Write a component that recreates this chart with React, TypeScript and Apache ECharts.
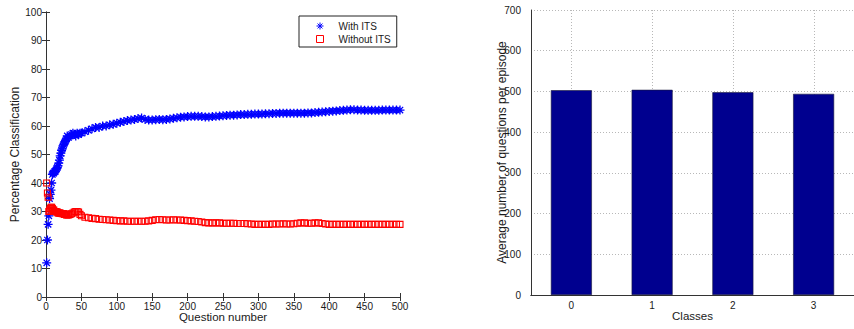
import React, { useEffect, useRef } from "react";
import * as echarts from "echarts";

// [question number, percentage classification]
const withIts: [number, number][] = [
  [1, 12], [2, 20], [3, 25.5], [4, 28.5], [5, 34.5], [6, 36], [7, 37.5], [8, 40], [9, 43], [10, 43.5],
  [11, 43.5], [12, 44], [13, 44], [14, 44.5], [15, 45], [16, 45.5], [17, 46], [18, 47], [19, 48], [20, 49.5],
  [21, 50.5], [22, 51.5], [23, 52], [24, 53], [25, 53.5], [26, 54], [27, 54.5], [28, 55], [29, 55.5], [30, 56.5],
  [32, 56], [34, 56.5], [36, 57], [38, 57.5], [40, 57], [42, 56.5], [44, 57.5], [46, 57], [48, 57.5],
  [50, 57.5], [55, 58], [60, 58.5], [65, 59], [70, 59.5], [75, 59.5], [80, 60], [85, 60], [90, 60.4], [95, 60.6],
  [100, 61], [105, 61.3], [110, 61.6], [115, 61.9], [120, 62.1], [125, 62.3], [130, 62.6], [135, 62.8], [140, 62.3], [145, 62.1],
  [150, 62.1], [155, 62.2], [160, 62.3], [165, 62.2], [170, 62.3], [175, 62.5], [180, 62.7], [185, 62.9], [190, 63.1], [195, 63.2],
  [200, 63.3], [205, 63.4], [210, 63.4], [215, 63.4], [220, 63.3], [225, 63.2], [230, 63.2], [235, 63.3], [240, 63.4], [245, 63.5],
  [250, 63.6], [255, 63.7], [260, 63.8], [265, 63.8], [270, 63.9], [275, 64], [280, 64], [285, 64.1], [290, 64.1], [295, 64.2],
  [300, 64.2], [305, 64.2], [310, 64.3], [315, 64.3], [320, 64.4], [325, 64.4], [330, 64.5], [335, 64.5], [340, 64.5], [345, 64.5],
  [350, 64.5], [355, 64.5], [360, 64.5], [365, 64.5], [370, 64.6], [375, 64.6], [380, 64.7], [385, 64.8], [390, 64.9], [395, 65],
  [400, 65.1], [405, 65.2], [410, 65.3], [415, 65.4], [420, 65.5], [425, 65.6], [430, 65.7], [435, 65.7], [440, 65.6], [445, 65.6],
  [450, 65.5], [455, 65.5], [460, 65.5], [465, 65.5], [470, 65.5], [475, 65.6], [480, 65.6], [485, 65.6], [490, 65.6], [495, 65.6],
  [500, 65.6],
];

const withoutIts: [number, number][] = [
  [1, 40], [2, 36.5], [3, 35], [4, 30], [5, 30.5], [6, 31], [7, 31.5], [8, 31.5], [9, 31], [10, 30.5],
  [11, 30.5], [12, 30], [13, 30], [14, 30], [15, 29.8], [16, 29.8], [17, 29.5], [18, 29.5], [19, 29.5], [20, 29.5],
  [21, 29.3], [22, 29.3], [23, 29.2], [24, 29.3], [25, 29.2], [26, 29], [27, 29], [28, 29], [29, 28.8], [30, 28.8],
  [32, 28.8], [34, 29], [36, 29.2], [38, 29.5], [40, 29.8], [42, 30], [44, 30], [46, 29.8], [48, 29],
  [50, 28.5], [55, 28], [60, 27.8], [65, 27.6], [70, 27.5], [75, 27.3], [80, 27.2], [85, 27.1], [90, 27], [95, 26.9],
  [100, 26.8], [105, 26.7], [110, 26.7], [115, 26.6], [120, 26.6], [125, 26.6], [130, 26.6], [135, 26.6], [140, 26.6], [145, 26.7],
  [150, 26.9], [155, 27.1], [160, 27.2], [165, 27.1], [170, 27], [175, 27], [180, 27.1], [185, 27], [190, 27], [195, 26.9],
  [200, 26.8], [205, 26.7], [210, 26.6], [215, 26.5], [220, 26.3], [225, 26.1], [230, 26], [235, 26], [240, 26], [245, 26],
  [250, 25.9], [255, 25.9], [260, 25.9], [265, 25.9], [270, 25.8], [275, 25.8], [280, 25.8], [285, 25.7], [290, 25.6], [295, 25.5],
  [300, 25.5], [305, 25.5], [310, 25.5], [315, 25.5], [320, 25.6], [325, 25.6], [330, 25.6], [335, 25.7], [340, 25.6], [345, 25.6],
  [350, 25.7], [355, 25.9], [360, 26], [365, 26], [370, 25.9], [375, 25.9], [380, 26], [385, 26], [390, 25.8], [395, 25.6],
  [400, 25.5], [405, 25.5], [410, 25.5], [415, 25.5], [420, 25.5], [425, 25.5], [430, 25.5], [435, 25.5], [440, 25.5], [445, 25.5],
  [450, 25.5], [455, 25.5], [460, 25.5], [465, 25.5], [470, 25.5], [475, 25.5], [480, 25.5], [485, 25.5], [490, 25.5], [495, 25.5],
  [500, 25.5],
];

const classes = ["0", "1", "2", "3"];
const avgQuestions = [503, 504, 498, 494];

const FONT = "Liberation Sans, Arial, Helvetica, sans-serif";
const TXT = "#1a1a1a";
const AX = "#333";
const GRIDC = "#b8b8b8";
const ASTERISK = "path://M5,0L5,10M0,5L10,5M1.5,1.5L8.5,8.5M1.5,8.5L8.5,1.5";

export default function App() {
  const ref = useRef<HTMLDivElement>(null);
  useEffect(() => {
    if (!ref.current) return;
    const chart = echarts.init(ref.current, undefined, { renderer: "svg" });
    const lbl = { fontFamily: FONT, fontSize: 10, color: TXT };
    const xNameStyle = { fontFamily: FONT, fontSize: 11.5, color: TXT };
    const yNameStyle = { fontFamily: FONT, fontSize: 12, color: TXT };
    const axLine = { show: true, lineStyle: { color: AX, width: 1 } };
    chart.setOption({
      animation: false,
      backgroundColor: "#fff",
      textStyle: { fontFamily: FONT },
      grid: [
        { left: 46, top: 12, width: 354, height: 285, containLabel: false },
        { left: 531, top: 10, width: 328, height: 285, containLabel: false },
      ],
      legend: {
        left: 299,
        top: 16,
        orient: "vertical",
        borderColor: "#222",
        borderWidth: 1,
        backgroundColor: "#fff",
        padding: [4, 6, 2, 17],
        itemGap: 1,
        itemWidth: 7,
        itemHeight: 7,
        textStyle: { fontFamily: FONT, fontSize: 10, color: TXT, lineHeight: 12, padding: [0, 0, 0, 10] },
        data: [
          {
            name: "With ITS", icon: ASTERISK,
            itemStyle: { color: "rgba(0,0,0,0)", borderColor: "#0000ff", borderWidth: 1 },
          },
          {
            name: "Without ITS", icon: "rect",
            itemStyle: { color: "rgba(0,0,0,0)", borderColor: "#ff0000", borderWidth: 1 },
          },
        ],
      },
      xAxis: [
        {
          type: "value", gridIndex: 0, min: 0, max: 500, interval: 50,
          name: "Question number", nameLocation: "middle", nameGap: 14, nameTextStyle: xNameStyle,
          nameMoveOverlap: false,
          axisLine: axLine, axisTick: { show: true, inside: true, length: 4, lineStyle: { color: AX } },
          axisLabel: { ...lbl, margin: 4 }, splitLine: { show: false },
        },
        {
          type: "value", gridIndex: 0, position: "top", min: 0, max: 500, interval: 50,
          axisLine: axLine, axisTick: { show: true, inside: true, length: 4, lineStyle: { color: AX } },
          axisLabel: { show: false }, splitLine: { show: false },
        },
        {
          type: "category", gridIndex: 1, data: classes, boundaryGap: true,
          name: "Classes", nameLocation: "middle", nameGap: 15, nameTextStyle: xNameStyle,
          nameMoveOverlap: false,
          axisLine: axLine, axisTick: { show: false },
          axisLabel: { ...lbl, margin: 5 },
          splitLine: { show: false },
        },
        {
          type: "category", gridIndex: 1, position: "top", data: classes,
          axisLine: axLine, axisTick: { show: false }, axisLabel: { show: false }, splitLine: { show: false },
        },
      ],
      yAxis: [
        {
          type: "value", gridIndex: 0, min: 0, max: 100, interval: 10,
          name: "Percentage Classification", nameLocation: "middle", nameGap: 25, nameTextStyle: yNameStyle,
          nameMoveOverlap: false,
          axisLine: axLine, axisTick: { show: true, inside: true, length: 4, lineStyle: { color: AX } },
          axisLabel: { ...lbl, margin: 4 }, splitLine: { show: false },
        },
        {
          type: "value", gridIndex: 0, position: "right", min: 0, max: 100, interval: 10,
          axisLine: axLine, axisTick: { show: true, inside: true, length: 4, lineStyle: { color: AX } },
          axisLabel: { show: false }, splitLine: { show: false },
        },
        {
          type: "value", gridIndex: 1, min: 0, max: 700, interval: 100,
          name: "Average number of questions per episode", nameLocation: "middle", nameGap: 23, nameTextStyle: yNameStyle,
          nameMoveOverlap: false,
          axisLine: axLine, axisTick: { show: false },
          axisLabel: { ...lbl, margin: 10 },
          splitLine: { show: true, lineStyle: { color: GRIDC, type: [1, 2], width: 1 } },
        },
        {
          type: "value", gridIndex: 1, position: "right", min: 0, max: 700, interval: 100,
          axisLine: axLine, axisTick: { show: false }, axisLabel: { show: false }, splitLine: { show: false },
        },
      ],
      series: [
        {
          name: "With ITS", type: "scatter", xAxisIndex: 0, yAxisIndex: 0,
          symbol: ASTERISK, symbolSize: 9,
          itemStyle: { color: "rgba(0,0,0,0)", borderColor: "#0000ff", borderWidth: 1.3, opacity: 1 },
          data: withIts, z: 2,
        },
        {
          name: "Without ITS", type: "scatter", xAxisIndex: 0, yAxisIndex: 0,
          symbol: "rect", symbolSize: 6,
          itemStyle: { color: "rgba(0,0,0,0)", borderColor: "#ff0000", borderWidth: 1.1, opacity: 1 },
          data: withoutIts, z: 3,
        },
        {
          name: "Average", type: "bar", xAxisIndex: 2, yAxisIndex: 2,
          barWidth: 41, z: 2,
          itemStyle: { color: "#00008f", borderColor: "#1a1a3a", borderWidth: 0.6 },
          data: avgQuestions,
        },
        {
          name: "vgrid", type: "custom", xAxisIndex: 2, yAxisIndex: 2, z: 1, silent: true,
          clip: false,
          encode: { x: 0, y: 1 },
          data: classes.map((c) => [c, 700]),
          renderItem: (params: any, api: any) => {
            const top = api.coord([api.value(0), api.value(1)]);
            const bottom = api.coord([api.value(0), 0]);
            const x = Math.round(top[0]) + 0.5;
            return {
              type: "line",
              z2: 0,
              shape: { x1: x, y1: top[1], x2: x, y2: bottom[1] },
              style: { stroke: GRIDC, lineWidth: 1, lineDash: [1, 2], fill: null },
            };
          },
        },
      ],
    });
    return () => chart.dispose();
  }, []);
  return (
    <div
      ref={ref}
      style={{ position: "fixed", left: 0, top: 0, width: 854, height: 329, background: "#fff" }}
    />
  );
}
